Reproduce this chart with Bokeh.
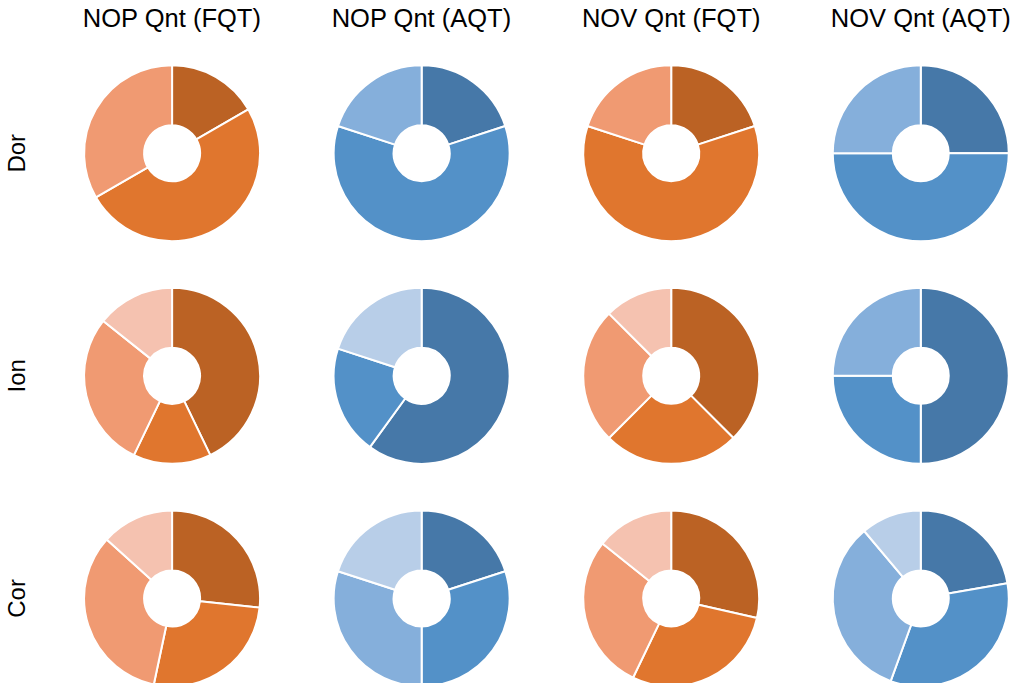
import math
from bokeh.plotting import figure
from bokeh.models import ColumnDataSource, Range1d, FixedTicker
from bokeh.embed import file_html
from bokeh.resources import INLINE

# ---- data ----
rows = ["Dor", "Ion", "Cor"]
columns = ["NOP Qnt (FQT)", "NOP Qnt (AQT)", "NOV Qnt (FQT)", "NOV Qnt (AQT)"]

# values per donut: four levels (darkest -> lightest), zero = absent
dor_values = [[1, 3, 2, 0], [1, 3, 1, 0], [1, 3, 1, 0], [1, 2, 1, 0]]
ion_values = [[3, 1, 2, 1], [3, 1, 0, 1], [3, 2, 2, 1], [2, 1, 1, 0]]
cor_values = [[4, 4, 5, 2], [2, 3, 3, 2], [2, 2, 2, 1], [2, 3, 3, 1]]

orange_palette = ["#bb6224", "#e0762e", "#f09a72", "#f5c2b0"]
blue_palette = ["#4678a8", "#5391c8", "#85afdb", "#b8cee8"]
column_palettes = [orange_palette, blue_palette, orange_palette, blue_palette]

all_values = [dor_values, ion_values, cor_values]

xs, ys, starts, ends, colors = [], [], [], [], []
for r, row_vals in enumerate(all_values):
    for c, vals in enumerate(row_vals):
        total = float(sum(vals))
        cum = 0.0
        for k, v in enumerate(vals):
            if v <= 0:
                continue
            a0 = math.pi / 2 - 2 * math.pi * cum / total
            cum += v
            a1 = math.pi / 2 - 2 * math.pi * cum / total
            xs.append(c)
            ys.append(-r)
            starts.append(a0)
            ends.append(a1)
            colors.append(column_palettes[c][k])

src = ColumnDataSource(dict(x=xs, y=ys, start=starts, end=ends, color=colors))

# page geometry: figure at (8,8)
W, H = 1011, 683
col_sp = 250.33
row_sp = 225.0
x0_px, y0_px = 177.0, 155.0
frame_left, frame_top = 40.0, 40.0
frame_right, frame_bottom = 8.0 + W, 8.0 + H

p = figure(width=W, height=H, output_backend="svg", toolbar_location=None,
           x_axis_location="above",
           x_range=Range1d((frame_left - x0_px) / col_sp, (frame_right - x0_px) / col_sp),
           y_range=Range1d((y0_px - frame_bottom) / row_sp, (y0_px - frame_top) / row_sp),
           min_border_left=int(frame_left - 8), min_border_top=int(frame_top - 8),
           min_border_right=0, min_border_bottom=0)

p.annular_wedge(x="x", y="y", inner_radius=28, outer_radius=88,
                inner_radius_units="screen", outer_radius_units="screen",
                start_angle="start", end_angle="end", direction="clock",
                fill_color="color", line_color="white", line_width=2, source=src)

p.grid.visible = False
p.outline_line_color = None
p.background_fill_color = "white"
p.border_fill_color = "white"

xa = p.xaxis[0]
xa.ticker = FixedTicker(ticks=[0, 1, 2, 3])
xa.major_label_overrides = {i: name for i, name in enumerate(columns)}
ya = p.yaxis[0]
ya.ticker = FixedTicker(ticks=[0, -1, -2])
ya.major_label_overrides = {-i: name for i, name in enumerate(rows)}
ya.major_label_orientation = "vertical"

for ax in (xa, ya):
    ax.axis_line_color = None
    ax.major_tick_line_color = None
    ax.minor_tick_line_color = None
    ax.major_tick_out = 0
    ax.major_tick_in = 0
    ax.major_label_text_font = "Liberation Sans"
    ax.major_label_text_color = "black"

xa.major_label_text_font_size = "25.5px"
xa.major_label_standoff = 8
ya.major_label_text_font_size = "24px"
ya.major_label_standoff = 5

open("out.html", "w").write(file_html(p, INLINE))
